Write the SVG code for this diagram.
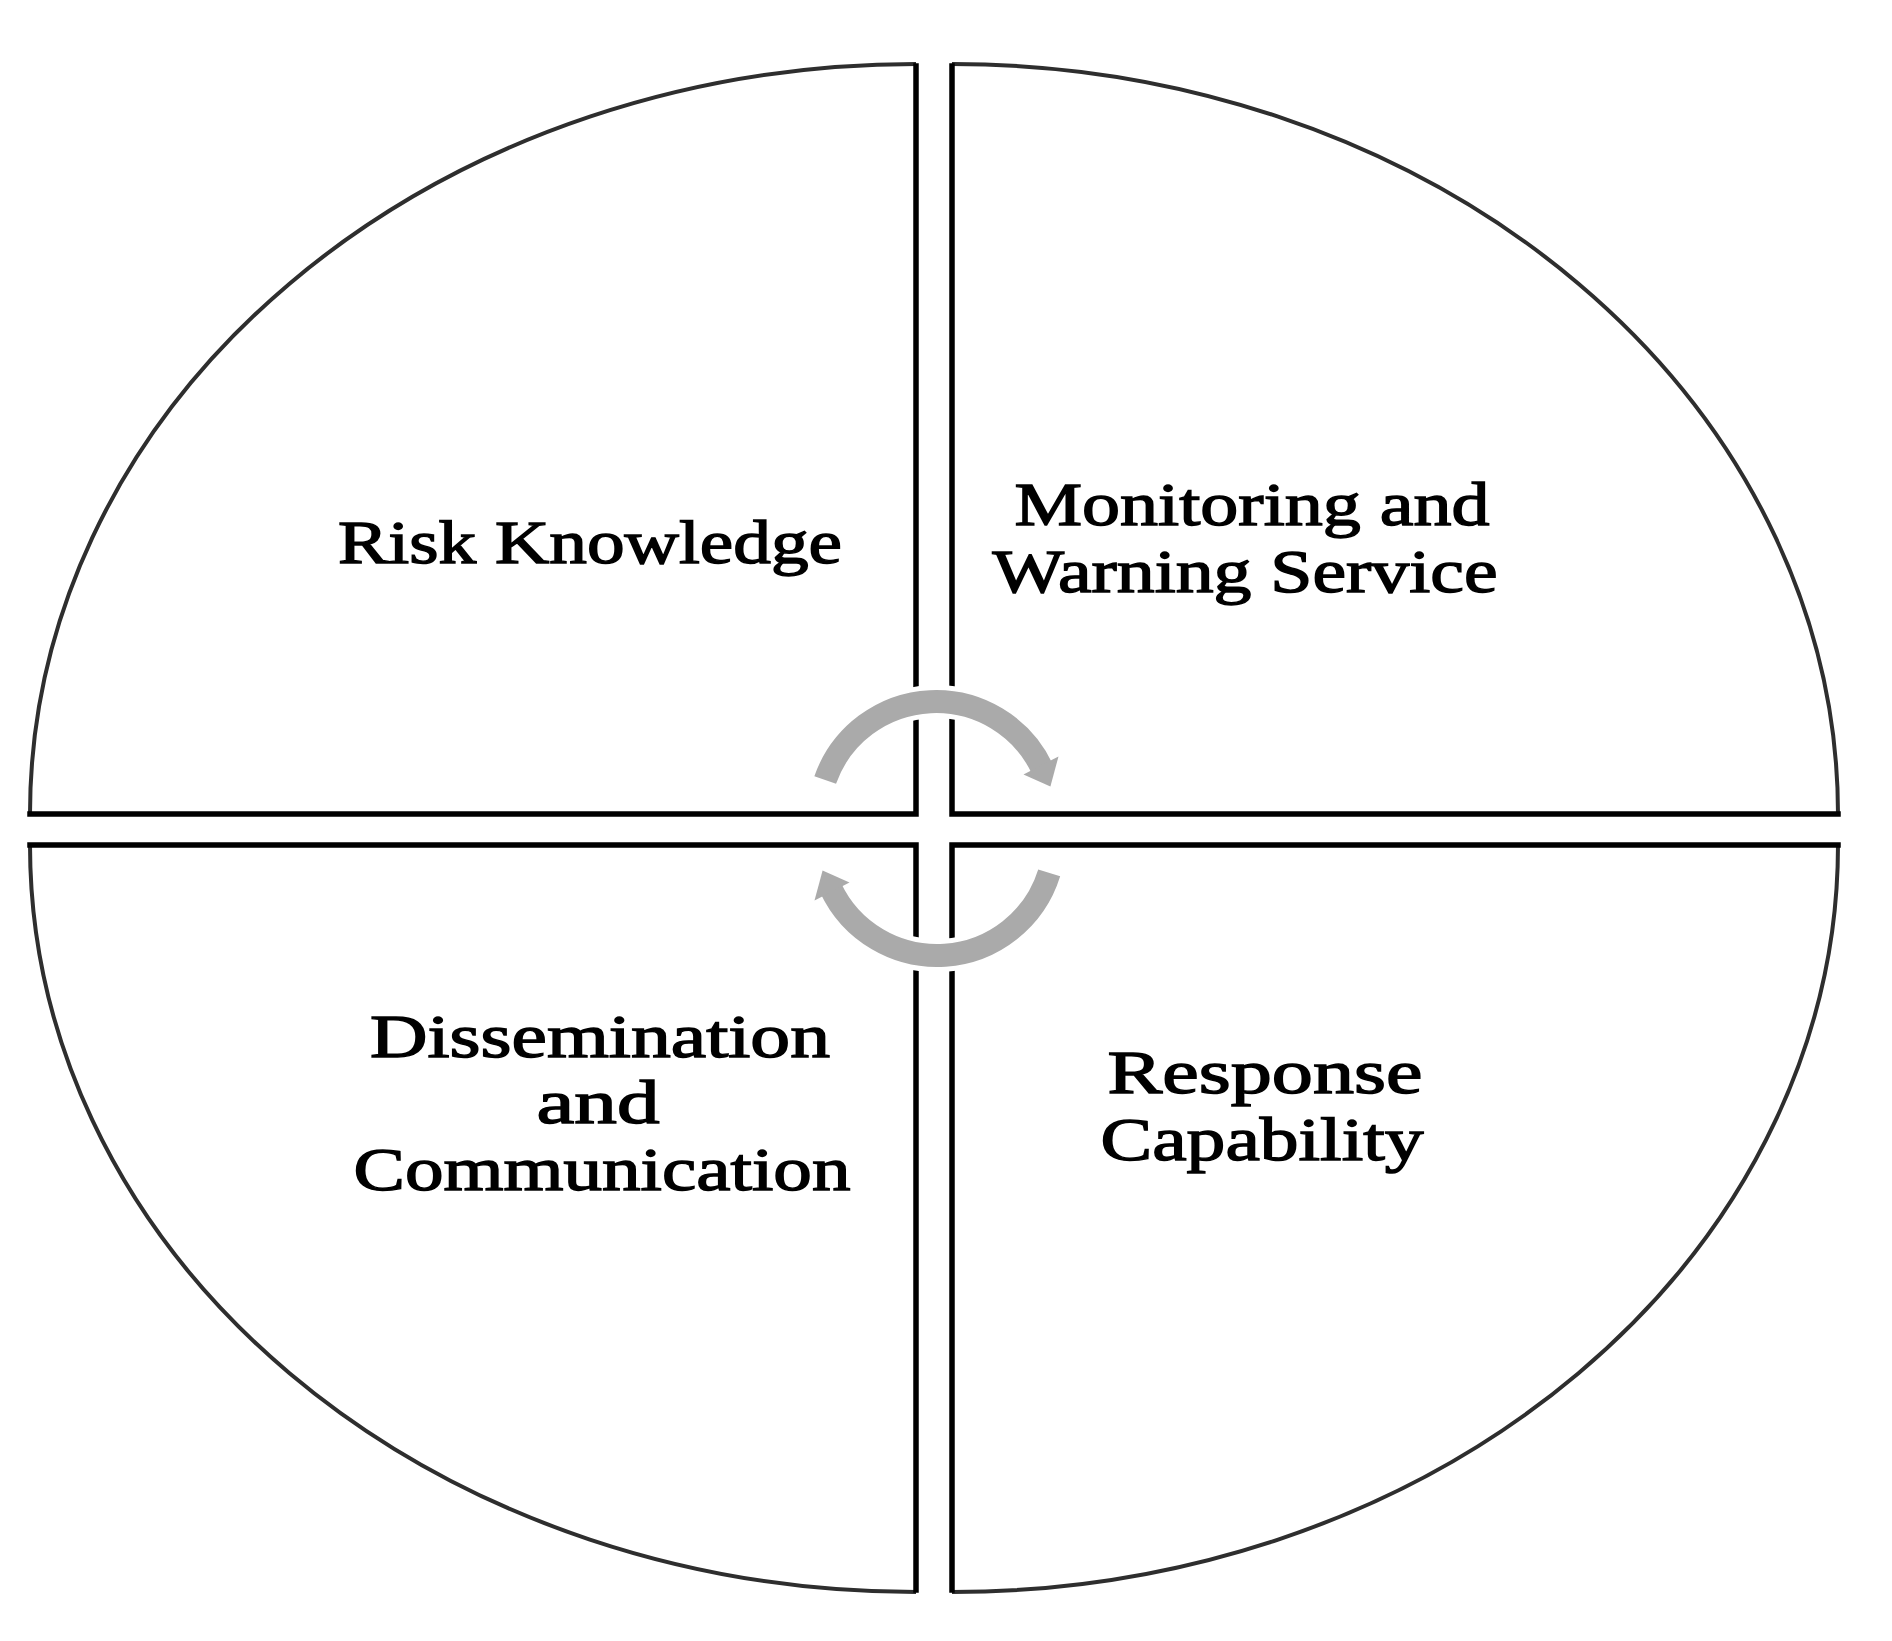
<svg xmlns="http://www.w3.org/2000/svg" width="1892" height="1641" viewBox="0 0 1892 1641">
  <style>
    .arc { fill: none; stroke: #2e2e2e; stroke-width: 4; }
    .edge { fill: none; stroke: #000; stroke-width: 5.5; stroke-linejoin: miter; stroke-linecap: square; }
    .fillq { fill: #fff; stroke: none; }
    .lbl { font-family: "Liberation Serif", "Times New Roman", serif; font-size: 61px; fill: #000; stroke: #000; stroke-width: 1.4; text-anchor: middle; }
    .halo { fill: none; stroke: #fff; stroke-width: 33; }
    .band { fill: none; stroke: #aaaaaa; stroke-width: 23; }
    .head { fill: #aaaaaa; stroke: none; }
  </style>
  <rect width="1892" height="1641" fill="#fff"/>

  <g id="risk-knowledge">
    <path class="fillq" d="M 30,814 A 886,750 0 0 1 916,64 L 916,814 Z"/>
    <path class="arc" d="M 30,814 A 886,750 0 0 1 916,64"/>
    <polyline class="edge" points="916,66 916,814 30,814"/>
    <text class="lbl" x="590" y="563" textLength="504" lengthAdjust="spacingAndGlyphs">Risk Knowledge</text>
  </g>

  <g id="monitoring-warning">
    <path class="fillq" d="M 952,64 A 886,750 0 0 1 1838,814 L 952,814 Z"/>
    <path class="arc" d="M 952,64 A 886,750 0 0 1 1838,814"/>
    <polyline class="edge" points="952,66 952,814 1838,814"/>
    <text class="lbl" x="1252" y="525" textLength="475" lengthAdjust="spacingAndGlyphs">Monitoring and</text>
    <text class="lbl" x="1245" y="592" textLength="505" lengthAdjust="spacingAndGlyphs">Warning Service</text>
  </g>

  <g id="dissemination-communication">
    <path class="fillq" d="M 30,845 L 916,845 L 916,1592 A 886,747 0 0 1 30,845 Z"/>
    <path class="arc" d="M 916,1592 A 886,747 0 0 1 30,845"/>
    <polyline class="edge" points="30,845 916,845 916,1590"/>
    <text class="lbl" x="600" y="1057" textLength="460" lengthAdjust="spacingAndGlyphs">Dissemination</text>
    <text class="lbl" x="598" y="1123" textLength="123" lengthAdjust="spacingAndGlyphs">and</text>
    <text class="lbl" x="602" y="1190" textLength="497" lengthAdjust="spacingAndGlyphs">Communication</text>
  </g>

  <g id="response-capability">
    <path class="fillq" d="M 952,845 L 1838,845 A 886,747 0 0 1 952,1592 Z"/>
    <path class="arc" d="M 1838,845 A 886,747 0 0 1 952,1592"/>
    <polyline class="edge" points="1838,845 952,845 952,1590"/>
    <text class="lbl" x="1265" y="1093" textLength="315" lengthAdjust="spacingAndGlyphs">Response</text>
    <text class="lbl" x="1262" y="1160" textLength="323" lengthAdjust="spacingAndGlyphs">Capability</text>
  </g>

  <g id="connectors">
    <path class="halo" d="M 825.2,780 A 117.5,117.5 0 0 1 1042.5,769.3"/>
    <path class="band" d="M 825.2,780 A 117.5,117.5 0 0 1 1042.5,769.3"/>
    <polygon class="head" points="1023.5,774.4 1058.5,756.4 1050.4,786.5"/>

    <path class="halo" d="M 1049.2,872.9 A 117.5,117.5 0 0 1 830.5,887.7"/>
    <path class="band" d="M 1049.2,872.9 A 117.5,117.5 0 0 1 830.5,887.7"/>
    <polygon class="head" points="849.5,882.6 814.5,900.6 822.6,870.5"/>
  </g>
</svg>
